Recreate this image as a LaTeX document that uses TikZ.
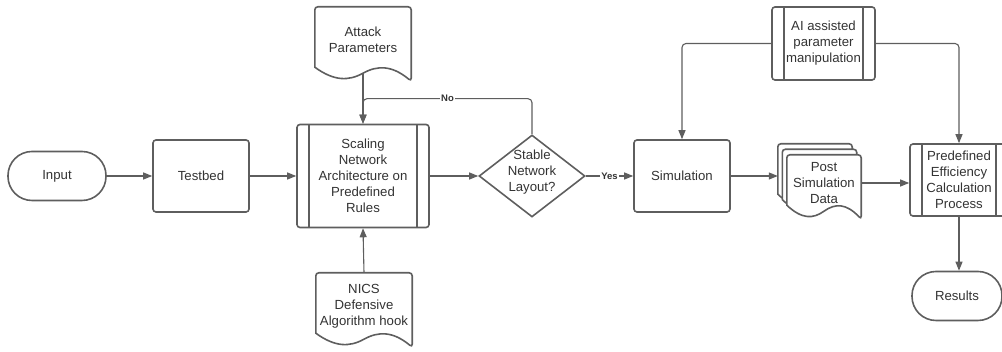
\documentclass[tikz,border=0pt]{standalone}
\usepackage{fontspec}
\setmainfont{Liberation Sans}
\usepackage{tikz}
\usetikzlibrary{arrows.meta}
\usetikzlibrary{shapes.geometric}
\usetikzlibrary{calc}
\usetikzlibrary{backgrounds}
\usetikzlibrary{positioning}
\definecolor{edge}{HTML}{5E5E5E}
\definecolor{ink}{HTML}{333333}
\tikzset{base/.style = {draw=edge, line width=1.6pt, text=ink, align=center, inner sep=0,
                        font=\fontsize{13.2}{16}\selectfont}}
\tikzset{proc/.style = {base, rectangle, rounded corners=3pt, minimum width=96pt, minimum height=72pt}}
\tikzset{term/.style = {base, rectangle, rounded corners=24pt, minimum height=49pt}}
\tikzset{decision/.style = {base, diamond, minimum width=106pt, minimum height=82pt}}
\tikzset{subproc/.style = {proc, path picture={
           \draw [edge, line width=1.6pt] ([xshift=12pt]path picture bounding box.north west)
                 -- ([xshift=12pt]path picture bounding box.south west);
           \draw [edge, line width=1.6pt] ([xshift=-12pt]path picture bounding box.north east)
                 -- ([xshift=-12pt]path picture bounding box.south east);}}}
\tikzset{doc/.style = {text=ink, align=center, inner sep=0, minimum width=96pt, minimum height=66pt,
                       font=\fontsize{13.2}{16}\selectfont}}
\tikzset{line/.style = {draw=edge, line width=1.1pt, -{Triangle[length=9pt, width=7pt]}}}
\tikzset{lab/.style = {fill=white, inner sep=1pt, text=ink, font=\bfseries\fontsize{9.5}{10}\selectfont}}
% document outline with wavy bottom, drawn behind the node text
\newcommand{\docshape}[1]{%
  \begin{pgfonlayer}{background}
  \draw [edge, line width=1.6pt, fill=white, rounded corners=3pt]
    ([yshift=6pt]#1.south west) -- (#1.north west) -- (#1.north east) -- ([yshift=-8pt]#1.south east)
    [sharp corners]
    .. controls ($(#1.south west)!0.8!(#1.south east)+(0,8pt)$) and ($(#1.south west)!0.65!(#1.south east)+(0,8pt)$) .. (#1.south)
    .. controls ($(#1.south west)!0.35!(#1.south east)+(0,-8pt)$) and ($(#1.south west)!0.2!(#1.south east)+(0,-8pt)$) .. ([yshift=6pt]#1.south west)
    -- cycle;
  \end{pgfonlayer}}

\begin{document}
\begin{tikzpicture}[x=1pt, y=1pt]
  \useasboundingbox (0,0) rectangle (1002,352);
  \clip (0,0) rectangle (1002,352);

  \node [term, minimum width=98pt] (input) at (57,176) {Input};
  \node [proc] (testbed) at (201,176) {Testbed};
  \node [subproc, minimum width=132pt, minimum height=103pt] (scal) at (363,176)
        {Scaling\\Network\\Architecture on\\Predefined\\Rules};
  \node [decision, label={[text=ink, align=center, font=\fontsize{13.2}{16}\selectfont, yshift=4pt]center:Stable\\Network\\Layout?}]
        (dec) at (532,176) {};
  \node [proc] (sim) at (682,176) {Simulation};
  \node [subproc, minimum width=103pt, minimum height=73pt] (ai) at (823.5,308.5)
        {AI assisted\\parameter\\manipulation};
  \node [subproc, minimum width=98pt] (pred) at (959,172)
        {Predefined\\Efficiency\\Calculation\\Process};
  \node [term, minimum width=90pt] (results) at (957,56) {Results};

  \node [doc] (atk) at (363,312) {Attack\\Parameters};
  \node [doc] (nics) at (364,46) {NICS\\Defensive\\Algorithm hook};
  \node [doc, minimum width=74pt, minimum height=56pt] (post3) at (815,180) {};
  \node [doc, minimum width=74pt, minimum height=56pt] (post2) at (819.5,174.5) {};
  \node [doc, minimum width=74pt, minimum height=56pt] (post) at (824,169) {Post\\Simulation\\Data};
  \docshape{atk}
  \docshape{nics}
  \docshape{post3}
  \docshape{post2}
  \docshape{post}

  \draw [line] (input) -- (testbed);
  \draw [line] (testbed) -- (scal);
  \draw [line] (scal) -- (dec);
  \draw [line] (dec) -- node [lab] {Yes} (sim);
  \draw [line, rounded corners=4pt] (dec.north) |- ([yshift=25pt]scal.north) node [lab, pos=0.75] {No} -- (scal.north);
  \draw [line] (atk.south) -- (scal.north);
  \draw [line] (nics.north) -- (scal.south);
  \draw [line] (sim.east) -- (sim.east -| post3.west);
  \draw [line] (post.east) -- (post.east -| pred.west);
  \draw [line, rounded corners=4pt] (ai.west) -| (sim.north);
  \draw [line, rounded corners=4pt] (ai.east) -| (pred.north);
  \draw [line] (pred.south) -- (pred.south |- results.north);
\end{tikzpicture}
\end{document}
